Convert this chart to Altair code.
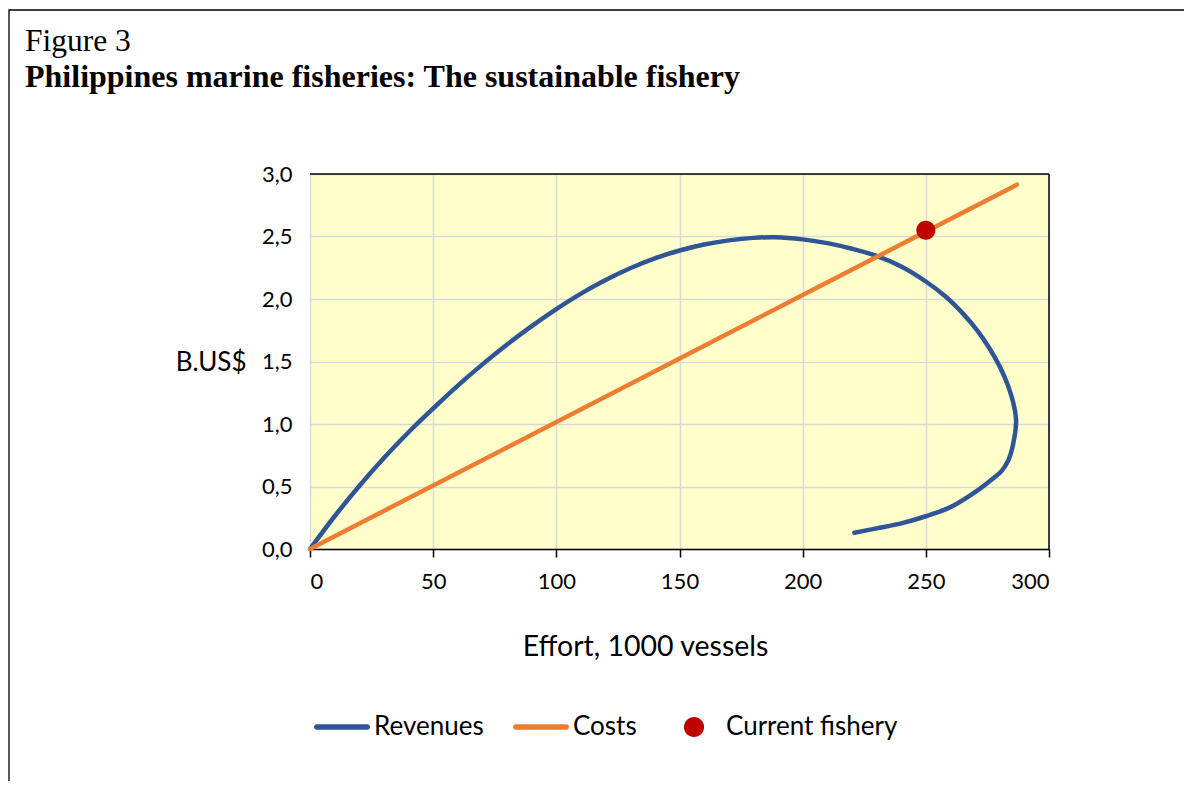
import altair as alt
import pandas as pd

# ---- data ----
series_names = ["Revenues", "Costs", "Current fishery"]
series_colors = ["#2F5597", "#ED7D31", "#C00000"]

rev_effort = [0, 10, 20, 30, 40, 50, 60, 70, 80, 90, 100, 110, 120, 130, 140, 150,
              160, 170, 180, 189, 200, 210, 220, 230, 240, 250, 258, 265, 271, 276,
              280, 283.3, 285.5, 286.6, 286.4, 286.0, 285.0, 283.5, 280.8, 277.4,
              270, 260, 250, 240, 230, 221]
rev_value = [0, 0.262, 0.504, 0.728, 0.934, 1.124, 1.307, 1.477, 1.636, 1.783, 1.919,
             2.043, 2.152, 2.246, 2.325, 2.388, 2.436, 2.469, 2.489, 2.494, 2.477,
             2.447, 2.402, 2.345, 2.26, 2.14, 2.02, 1.885, 1.745, 1.60, 1.46, 1.31,
             1.17, 1.04, 0.95, 0.90, 0.80, 0.71, 0.625, 0.566, 0.455, 0.335, 0.262,
             0.205, 0.165, 0.13]

cost_effort = [0, 287]
cost_value = [0, 2.915]

cur_effort = [250]
cur_value = [2.55]

x_ticks = [0, 50, 100, 150, 200, 250, 300]
y_ticks = [0, 0.5, 1.0, 1.5, 2.0, 2.5, 3.0]

title_line1 = "Figure 3"
title_line2 = "Philippines marine fisheries: The sustainable fishery"

rev_df = pd.DataFrame({"effort": rev_effort, "value": rev_value,
                       "order": list(range(len(rev_effort))), "series": "Revenues"})
cost_df = pd.DataFrame({"effort": cost_effort, "value": cost_value,
                        "order": [0, 1], "series": "Costs"})
cur_df = pd.DataFrame({"effort": cur_effort, "value": cur_value, "series": "Current fishery"})

FONT = "Lato"

xscale = alt.Scale(domain=[0, 300], nice=False)
yscale = alt.Scale(domain=[0, 3], nice=False)

xax = alt.Axis(values=x_ticks, title="Effort, 1000 vessels", grid=True,
               gridColor="#D9D9D9", gridWidth=1.5, domainColor="black", domainWidth=1.5,
               tickColor="black", tickWidth=1.5, tickSize=8, labelPadding=14,
               labelFont=FONT, labelFontSize=22, labelColor="black",
               titleFont=FONT, titleFontSize=28.5, titleFontWeight="normal", titleColor="black",
               titleX=335, titleY=97, titleBaseline="middle")
yax = alt.Axis(values=y_ticks, title="B.US$", grid=True, gridColor="#D9D9D9", gridWidth=1.5,
               domain=False, ticks=False, labelPadding=18,
               labelExpr="replace(format(datum.value, '.1f'), '.', ',')",
               labelFont=FONT, labelFontSize=22, labelColor="black",
               titleFont=FONT, titleFontSize=26, titleFontWeight="normal", titleColor="black",
               titleAngle=0, titleAlign="right", titleBaseline="middle",
               titleX=-64, titleY=188)

color_scale = alt.Scale(domain=series_names, range=series_colors)
h = 0.1
w = 0.9
rect_path = (f"M{-w},{-h}L{w},{-h}A{h},{h} 0 0,1 {w},{h}"
             f"L{-w},{h}A{h},{h} 0 0,1 {-w},{-h}Z")
r = 0.36
circ_path = f"M{r},0A{r},{r} 0 1,1 -{r},0A{r},{r} 0 1,1 {r},0Z"
shape_scale = alt.Scale(domain=series_names, range=[rect_path, rect_path, circ_path])

legend = alt.Legend(orient="none", legendX=4, legendY=525, direction="horizontal",
                    title=None, symbolSize=3136, labelFont=FONT, labelFontSize=26,
                    labelColor="black", columnPadding=29, labelOffset=4,
                    labelLimit=400, symbolStrokeWidth=0)

base_x = alt.X("effort:Q", scale=xscale, axis=xax)
base_y = alt.Y("value:Q", scale=yscale, axis=yax)

rev = alt.Chart(rev_df).mark_line(strokeWidth=4.5, interpolate="catmull-rom",
                                  strokeCap="round").encode(
    x=base_x, y=base_y, order="order:Q",
    color=alt.Color("series:N", scale=color_scale, legend=legend))

cost = alt.Chart(cost_df).mark_line(strokeWidth=4.5, strokeCap="round").encode(
    x="effort:Q", y="value:Q", order="order:Q",
    color=alt.Color("series:N", scale=color_scale, legend=legend))

cur = alt.Chart(cur_df).mark_point(filled=True, opacity=1, size=2790).encode(
    x="effort:Q", y="value:Q",
    color=alt.Color("series:N", scale=color_scale, legend=legend),
    shape=alt.Shape("series:N", scale=shape_scale, legend=legend))

one = pd.DataFrame({"a": [0]})
top_rule = alt.Chart(one).mark_rule(color="black", strokeWidth=1.5).encode(
    x=alt.datum(0), x2=alt.datum(300), y=alt.datum(3))
right_rule = alt.Chart(one).mark_rule(color="black", strokeWidth=1.5).encode(
    x=alt.datum(300), y=alt.datum(0), y2=alt.datum(3))

frame = alt.Chart(one).mark_rect(filled=False, stroke="black", strokeWidth=1.3).encode(
    x=alt.value(-301), x2=alt.value(1000), y=alt.value(-164), y2=alt.value(800))

t1 = alt.Chart(pd.DataFrame({"t": [title_line1]})).mark_text(
    align="left", baseline="alphabetic", font="Liberation Serif", fontSize=31.5,
    color="black").encode(x=alt.value(-285), y=alt.value(51 - 174), text="t:N")
t2 = alt.Chart(pd.DataFrame({"t": [title_line2]})).mark_text(
    align="left", baseline="alphabetic", font="Liberation Serif", fontSize=32,
    fontWeight="bold", color="black").encode(x=alt.value(-285), y=alt.value(87 - 174), text="t:N")

chart = alt.layer(frame, t1, t2, rev, cost, top_rule, right_rule, cur).properties(
    width=739, height=375,
    autosize=alt.AutoSizeParams(type="none"),
    padding={"left": 302, "top": 166, "right": 135, "bottom": 232},
).configure_view(fill="#FFFFCC", stroke=None)

chart.save("out.html", embed_options={"renderer": "svg", "actions": False})
